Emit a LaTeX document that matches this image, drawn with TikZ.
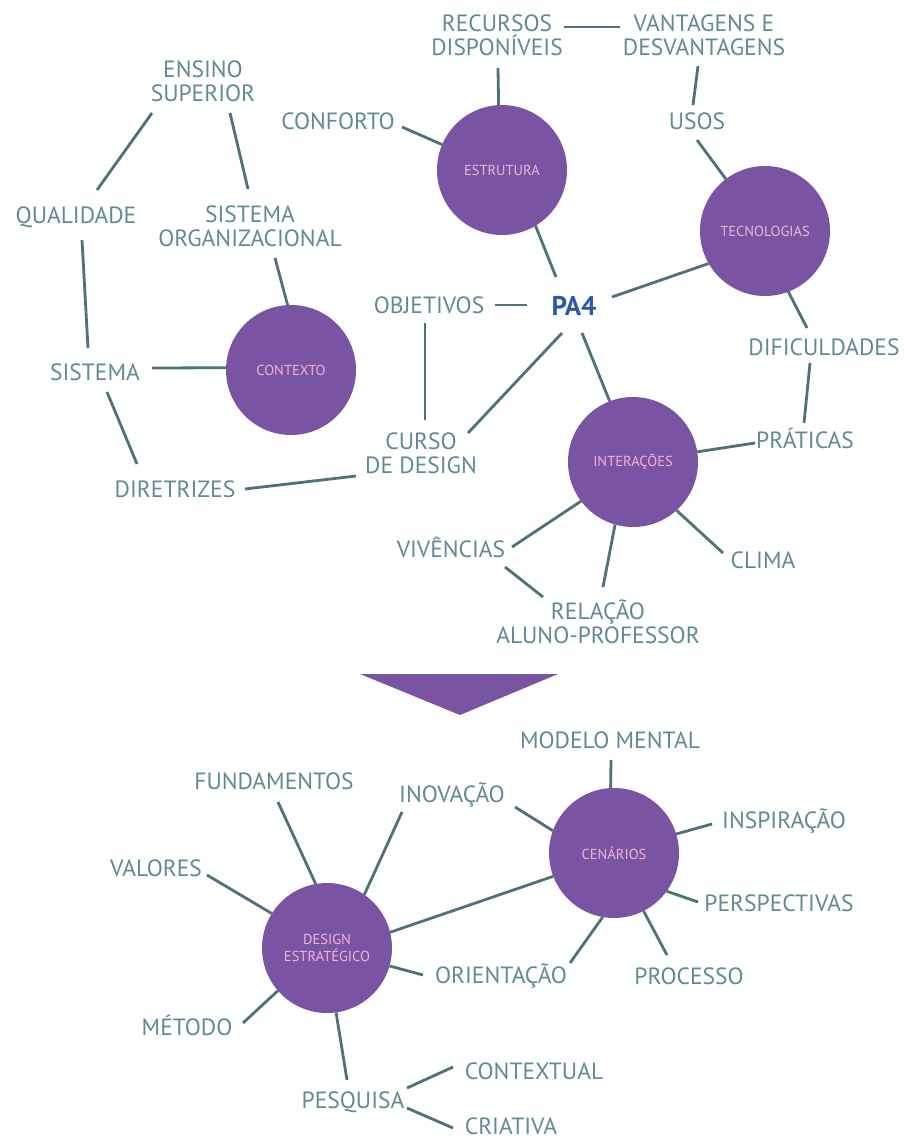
\documentclass[tikz,border=0pt]{standalone}
\usepackage{fontspec}
\setmainfont{PT Sans}
\definecolor{txt}{RGB}{96,138,148}
\definecolor{ln}{RGB}{78,114,122}
\definecolor{purp}{RGB}{121,84,162}
\definecolor{pinktxt}{RGB}{238,180,218}
\definecolor{pablue}{RGB}{45,88,168}
\begin{document}
\begin{tikzpicture}[x=1pt,y=-1pt,
  lbl/.style={text=txt,font=\fontsize{23.5}{24}\selectfont,inner sep=0pt,text height=16.5pt,text depth=0pt},
  lbltwo/.style={text=txt,font=\fontsize{23.5}{24}\selectfont,align=center,inner sep=0pt},
  hub/.style={circle,fill=purp,minimum size=130pt,inner sep=0pt,outer sep=0pt,text=pinktxt,font=\fontsize{14.5}{17}\selectfont,align=center},
  conn/.style={draw=ln,line width=2.8pt}]
\fill[white] (0,0) rectangle (907,1140);
\useasboundingbox (0,0) rectangle (907,1140);

% hubs
\node[hub] (estrutura) at (502,170) {ESTRUTURA};
\node[hub] (tecno) at (765,231) {TECNOLOGIAS};
\node[hub] (contexto) at (291,370) {CONTEXTO};
\node[hub] (inter) at (633,462) {INTERAÇÕES};
\node[hub] (cenarios) at (614,853) {CENÁRIOS};
\node[hub] (design) at (327,948) {DESIGN\\ESTRATÉGICO};

% labels
\node[lbltwo] (ensino) at (203,81) {ENSINO\\SUPERIOR};
\node[lbl] (qual) at (76,215) {QUALIDADE};
\node[lbltwo] (sisorg) at (250,226) {SISTEMA\\ORGANIZACIONAL};
\node[lbl] (sistema) at (95,372) {SISTEMA};
\node[lbl] (diretrizes) at (175,489) {DIRETRIZES};
\node[lbl] (conforto) at (338,121) {CONFORTO};
\node[lbltwo] (recursos) at (497,35) {RECURSOS\\DISPONÍVEIS};
\node[lbltwo] (vantagens) at (704,35) {VANTAGENS E\\DESVANTAGENS};
\node[lbl] (usos) at (697,121) {USOS};
\node[lbl] (objetivos) at (429,305) {OBJETIVOS};
\node[inner sep=0pt,text=pablue,font=\fontsize{27}{28}\selectfont\bfseries,text height=18.5pt,text depth=0pt] (pa4) at (574,306) {PA4};
\node[lbl] (dific) at (824,347) {DIFICULDADES};
\node[lbl] (praticas) at (805,440) {PRÁTICAS};
\node[lbltwo] (curso) at (421,453) {CURSO\\DE DESIGN};
\node[lbl] (viv) at (451,549) {VIVÊNCIAS};
\node[lbl] (clima) at (763,560) {CLIMA};
\node[lbltwo] (relacao) at (598,622) {RELAÇÃO\\ALUNO-PROFESSOR};
\node[lbl] (modelo) at (610,740) {MODELO MENTAL};
\node[lbl] (fund) at (274,781) {FUNDAMENTOS};
\node[lbl] (inov) at (452,794) {INOVAÇÃO};
\node[lbl] (insp) at (784,820) {INSPIRAÇÃO};
\node[lbl] (valores) at (156,868) {VALORES};
\node[lbl] (persp) at (779,903) {PERSPECTIVAS};
\node[lbl] (orient) at (501,975) {ORIENTAÇÃO};
\node[lbl] (processo) at (689,976) {PROCESSO};
\node[lbl] (metodo) at (187,1027) {MÉTODO};
\node[lbl] (contextual) at (534,1071) {CONTEXTUAL};
\node[lbl] (pesquisa) at (353,1100) {PESQUISA};
\node[lbl] (criativa) at (511,1126) {CRIATIVA};

% arrow triangle
\fill[purp] (360,674) -- (558,674) -- (460,715) -- cycle;

% connectors
\draw[conn] ([shift={(-51,32)}]ensino.center) -- ([shift={(21,-25)}]qual.center);
\draw[conn] ([shift={(27,32)}]ensino.center) -- ([shift={(-2,-37)}]sisorg.center);
\draw[conn] ([shift={(6,25)}]qual.center) -- ([shift={(-7,-24)}]sistema.center);
\draw[conn] ([shift={(25,32)}]sisorg.center) -- (contexto.93);
\draw[conn] ([shift={(57,-4)}]sistema.center) -- (contexto.178);
\draw[conn] ([shift={(12,20)}]sistema.center) -- ([shift={(-38,-25)}]diretrizes.center);
\draw[conn] ([shift={(70,0)}]diretrizes.center) -- ([shift={(-65,23)}]curso.center);
\draw[conn] ([shift={(64,6)}]conforto.center) -- (estrutura.157);
\draw[conn] ([shift={(1,33)}]recursos.center) -- (estrutura.93);
\draw[conn] ([shift={(67,-8)}]recursos.center) -- ([shift={(-84,-8)}]vantagens.center);
\draw[conn] ([shift={(-6,31)}]vantagens.center) -- ([shift={(-4,-16)}]usos.center);
\draw[conn] ([shift={(0,19)}]usos.center) -- (tecno.127);
\draw[conn] (estrutura.301) -- ([shift={(-18,-29)}]pa4.center);
\draw[conn] (tecno.210) -- ([shift={(38,-9)}]pa4.center);
\draw[conn] ([shift={(66,0)}]objetivos.center) -- ([shift={(-47,-1)}]pa4.center);
\draw[conn] ([shift={(-4,18)}]objetivos.center) -- ([shift={(4,-33)}]curso.center);
\draw[conn] ([shift={(-12,27)}]pa4.center) -- ([shift={(47,-20)}]curso.center);
\draw[conn] ([shift={(8,27)}]pa4.center) -- (inter.111);
\draw[conn] (tecno.291) -- ([shift={(-17,-19)}]dific.center);
\draw[conn] ([shift={(-14,16)}]dific.center) -- ([shift={(-1,-17)}]praticas.center);
\draw[conn] (inter.9) -- ([shift={(-50,3)}]praticas.center);
\draw[conn] (inter.217) -- ([shift={(61,-2)}]viv.center);
\draw[conn] ([shift={(54,18)}]viv.center) -- ([shift={(-55,-25)}]relacao.center);
\draw[conn] (inter.254) -- ([shift={(5,-35)}]relacao.center);
\draw[conn] (inter.312) -- ([shift={(-40,-7)}]clima.center);
\draw[conn] ([shift={(1,20)}]modelo.center) -- (cenarios.93);
\draw[conn] ([shift={(63,13)}]inov.center) -- (cenarios.160);
\draw[conn] ([shift={(-72,4)}]insp.center) -- (cenarios.17);
\draw[conn] ([shift={(-81,-1)}]persp.center) -- (cenarios.324);
\draw[conn] ([shift={(-22,-21)}]processo.center) -- (cenarios.297);
\draw[conn] ([shift={(69,-12)}]orient.center) -- (cenarios.260);
\draw[conn] (design.14) -- (cenarios.201);
\draw[conn] ([shift={(4,21)}]fund.center) -- (design.100);
\draw[conn] ([shift={(-50,18)}]inov.center) -- (design.55);
\draw[conn] ([shift={(51,7)}]valores.center) -- (design.148);
\draw[conn] (design.344) -- ([shift={(-78,0)}]orient.center);
\draw[conn] ([shift={(56,-4)}]metodo.center) -- (design.221);
\draw[conn] (design.278) -- ([shift={(-6,-20)}]pesquisa.center);
\draw[conn] ([shift={(54,-12)}]pesquisa.center) -- ([shift={(-81,-4)}]contextual.center);
\draw[conn] ([shift={(54,8)}]pesquisa.center) -- ([shift={(-58,2)}]criativa.center);
\end{tikzpicture}
\end{document}
